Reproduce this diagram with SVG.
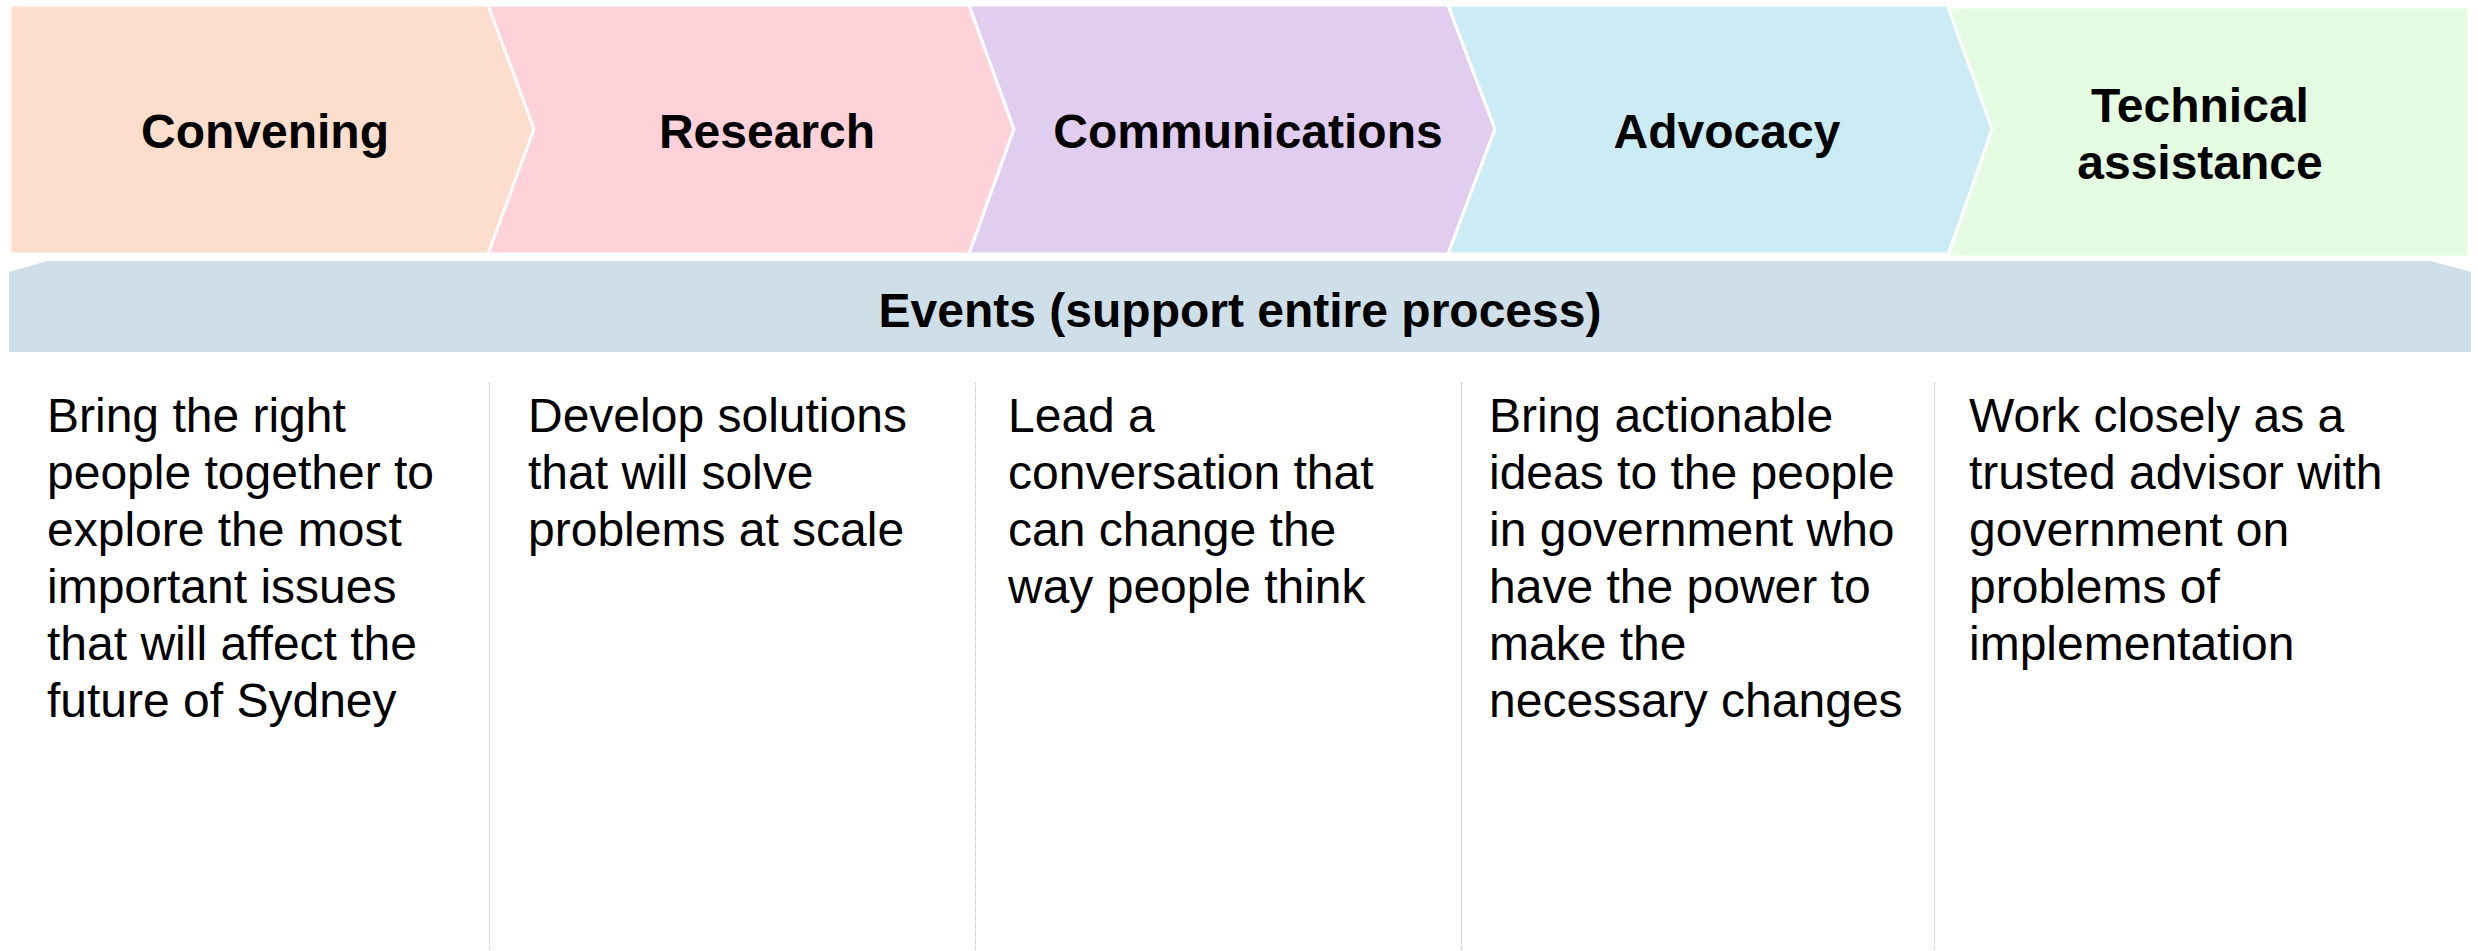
<svg xmlns="http://www.w3.org/2000/svg" width="2478" height="951" viewBox="0 0 2478 951">
  <style>
    .stage { stroke: #ffffff; stroke-width: 3; stroke-linejoin: miter; }
    .head { font-family: "Liberation Sans", Arial, sans-serif; font-weight: bold; font-size: 48px; fill: #000000; text-anchor: middle; }
    .body { font-family: "Liberation Sans", Arial, sans-serif; font-size: 48px; fill: #000000; }
    .sep { stroke: #b4b4b4; stroke-width: 1; stroke-dasharray: 1 1; fill: none; }
  </style>
  <rect width="2478" height="951" fill="#ffffff"/>

  <!-- process stages -->
  <g id="convening">
    <polygon class="stage" fill="#FDDDCB" points="10,5 489,5 535,129 489,254 10,254"/>
    <text class="head" x="265" y="148">Convening</text>
  </g>
  <g id="research">
    <polygon class="stage" fill="#FFD1D9" points="488,5 969,5 1014,129 969,254 488,254 534,129"/>
    <text class="head" x="767" y="148">Research</text>
  </g>
  <g id="communications">
    <polygon class="stage" fill="#E0CDEF" points="969,5 1448,5 1495,129 1448,254 969,254 1014,129"/>
    <text class="head" x="1248" y="148">Communications</text>
  </g>
  <g id="advocacy">
    <polygon class="stage" fill="#CCECF5" points="1448,5 1948,5 1993,129 1948,254 1448,254 1495,129"/>
    <text class="head" x="1727" y="148">Advocacy</text>
  </g>
  <g id="technical-assistance">
    <polygon class="stage" fill="#E4FDE2" points="1948,7 2469,7 2469,257 1948,257 1992,129"/>
    <text class="head" x="2200" y="122">Technical</text>
    <text class="head" x="2200" y="179">assistance</text>
  </g>

  <!-- supporting band -->
  <g id="events">
    <polygon fill="#CFDFE9" points="47,261 2431,261 2471,272 2471,352 9,352 9,272"/>
    <text class="head" x="1240" y="327">Events (support entire process)</text>
  </g>

  <!-- column dividers -->
  <g id="connectors">
    <line class="sep" x1="489.5" y1="383" x2="489.5" y2="951"/>
    <line class="sep" x1="975.5" y1="383" x2="975.5" y2="951"/>
    <line class="sep" x1="1461.5" y1="383" x2="1461.5" y2="951"/>
    <line class="sep" x1="1934.5" y1="383" x2="1934.5" y2="951"/>
  </g>

  <!-- descriptions -->
  <g id="desc-convening">
    <text class="body" x="47" y="432">Bring the right</text>
    <text class="body" x="47" y="489">people together to</text>
    <text class="body" x="47" y="546">explore the most</text>
    <text class="body" x="47" y="603">important issues</text>
    <text class="body" x="47" y="660">that will affect the</text>
    <text class="body" x="47" y="717">future of Sydney</text>
  </g>
  <g id="desc-research">
    <text class="body" x="528" y="432">Develop solutions</text>
    <text class="body" x="528" y="489">that will solve</text>
    <text class="body" x="528" y="546">problems at scale</text>
  </g>
  <g id="desc-communications">
    <text class="body" x="1008" y="432">Lead a</text>
    <text class="body" x="1008" y="489">conversation that</text>
    <text class="body" x="1008" y="546">can change the</text>
    <text class="body" x="1008" y="603">way people think</text>
  </g>
  <g id="desc-advocacy">
    <text class="body" x="1489" y="432">Bring actionable</text>
    <text class="body" x="1489" y="489">ideas to the people</text>
    <text class="body" x="1489" y="546">in government who</text>
    <text class="body" x="1489" y="603">have the power to</text>
    <text class="body" x="1489" y="660">make the</text>
    <text class="body" x="1489" y="717">necessary changes</text>
  </g>
  <g id="desc-technical">
    <text class="body" x="1969" y="432">Work closely as a</text>
    <text class="body" x="1969" y="489">trusted advisor with</text>
    <text class="body" x="1969" y="546">government on</text>
    <text class="body" x="1969" y="603">problems of</text>
    <text class="body" x="1969" y="660">implementation</text>
  </g>
</svg>
